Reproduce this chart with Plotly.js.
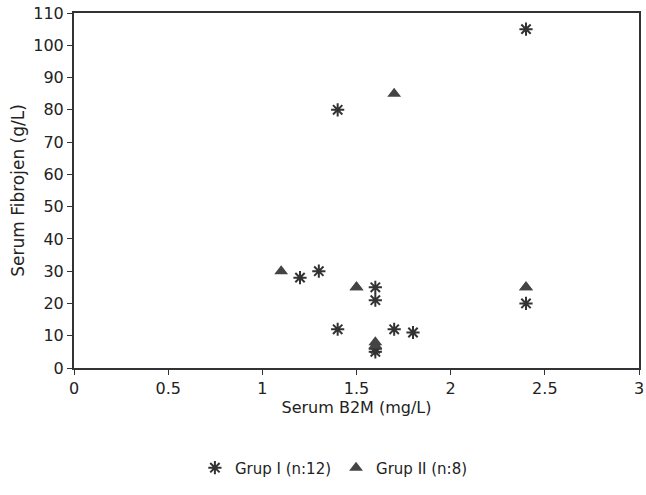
<!DOCTYPE html>
<html>
<head>
<meta charset="utf-8">
<script src="https://cdn.plot.ly/plotly-3.0.1.min.js"></script>
<style>html,body{margin:0;padding:0;background:#fff;}#chart{width:646px;height:495px;}</style>
</head>
<body>
<div id="chart"></div>
<script>
// Grup I (asterisks)
const grup1X = [2.4, 1.4, 1.2, 1.3, 1.6, 1.6, 1.4, 1.7, 1.8, 1.6, 2.4, 1.6];
const grup1Y = [105, 80, 28, 30, 25, 21, 12, 12, 11, 5, 20, 6];
// Grup II (triangles)
const grup2X = [1.7, 1.1, 1.5, 2.4, 1.6, 1.6, 1.5, 2.4];
const grup2Y = [85, 30, 25, 25, 8, 7, 25, 25];
const xTicks = [0, 0.5, 1, 1.5, 2, 2.5, 3];
const yTicks = [0, 10, 20, 30, 40, 50, 60, 70, 80, 90, 100, 110];

const font = "DejaVu Sans, sans-serif";
const traces = [
  {x: grup1X, y: grup1Y, mode: 'markers', type: 'scatter', name: 'Grup I (n:12)',
   marker: {symbol: 'asterisk-open', size: 11, color: '#333', line: {color: '#333', width: 2}}},
  {x: grup2X, y: grup2Y, mode: 'markers', type: 'scatter', name: 'Grup II (n:8)',
   marker: {symbol: 'triangle-up', size: 12, color: '#444'}}
];
const layout = {
  width: 646, height: 495,
  margin: {l: 74, r: 7, t: 13, b: 127},
  paper_bgcolor: '#fff', plot_bgcolor: '#fff',
  font: {family: font, color: '#222', size: 15},
  showlegend: true,
  legend: {orientation: 'h', x: 0.46, xanchor: 'center', y: -0.235, yanchor: 'top',
           font: {size: 15, color: '#222'}},
  xaxis: {range: [0, 3], tickvals: xTicks, ticktext: xTicks.map(String),
          showgrid: false, zeroline: false, showline: true, linecolor: '#333', linewidth: 2,
          mirror: true, ticks: 'outside', ticklen: 5, tickcolor: '#333',
          ticklabeloverflow: 'allow',
          tickfont: {size: 16},
          title: {text: 'Serum B2M (mg/L)', font: {size: 16}, standoff: 2}},
  yaxis: {range: [0, 110], tickvals: yTicks, ticktext: yTicks.map(String),
          showgrid: false, zeroline: false, showline: true, linecolor: '#333', linewidth: 2,
          mirror: true, ticks: 'outside', ticklen: 5, tickcolor: '#333',
          tickfont: {size: 16},
          title: {text: 'Serum Fibrojen (g/L)', font: {size: 17}, standoff: 4}}
};
Plotly.newPlot('chart', traces, layout, {displayModeBar: false, staticPlot: true});
</script>
</body>
</html>
